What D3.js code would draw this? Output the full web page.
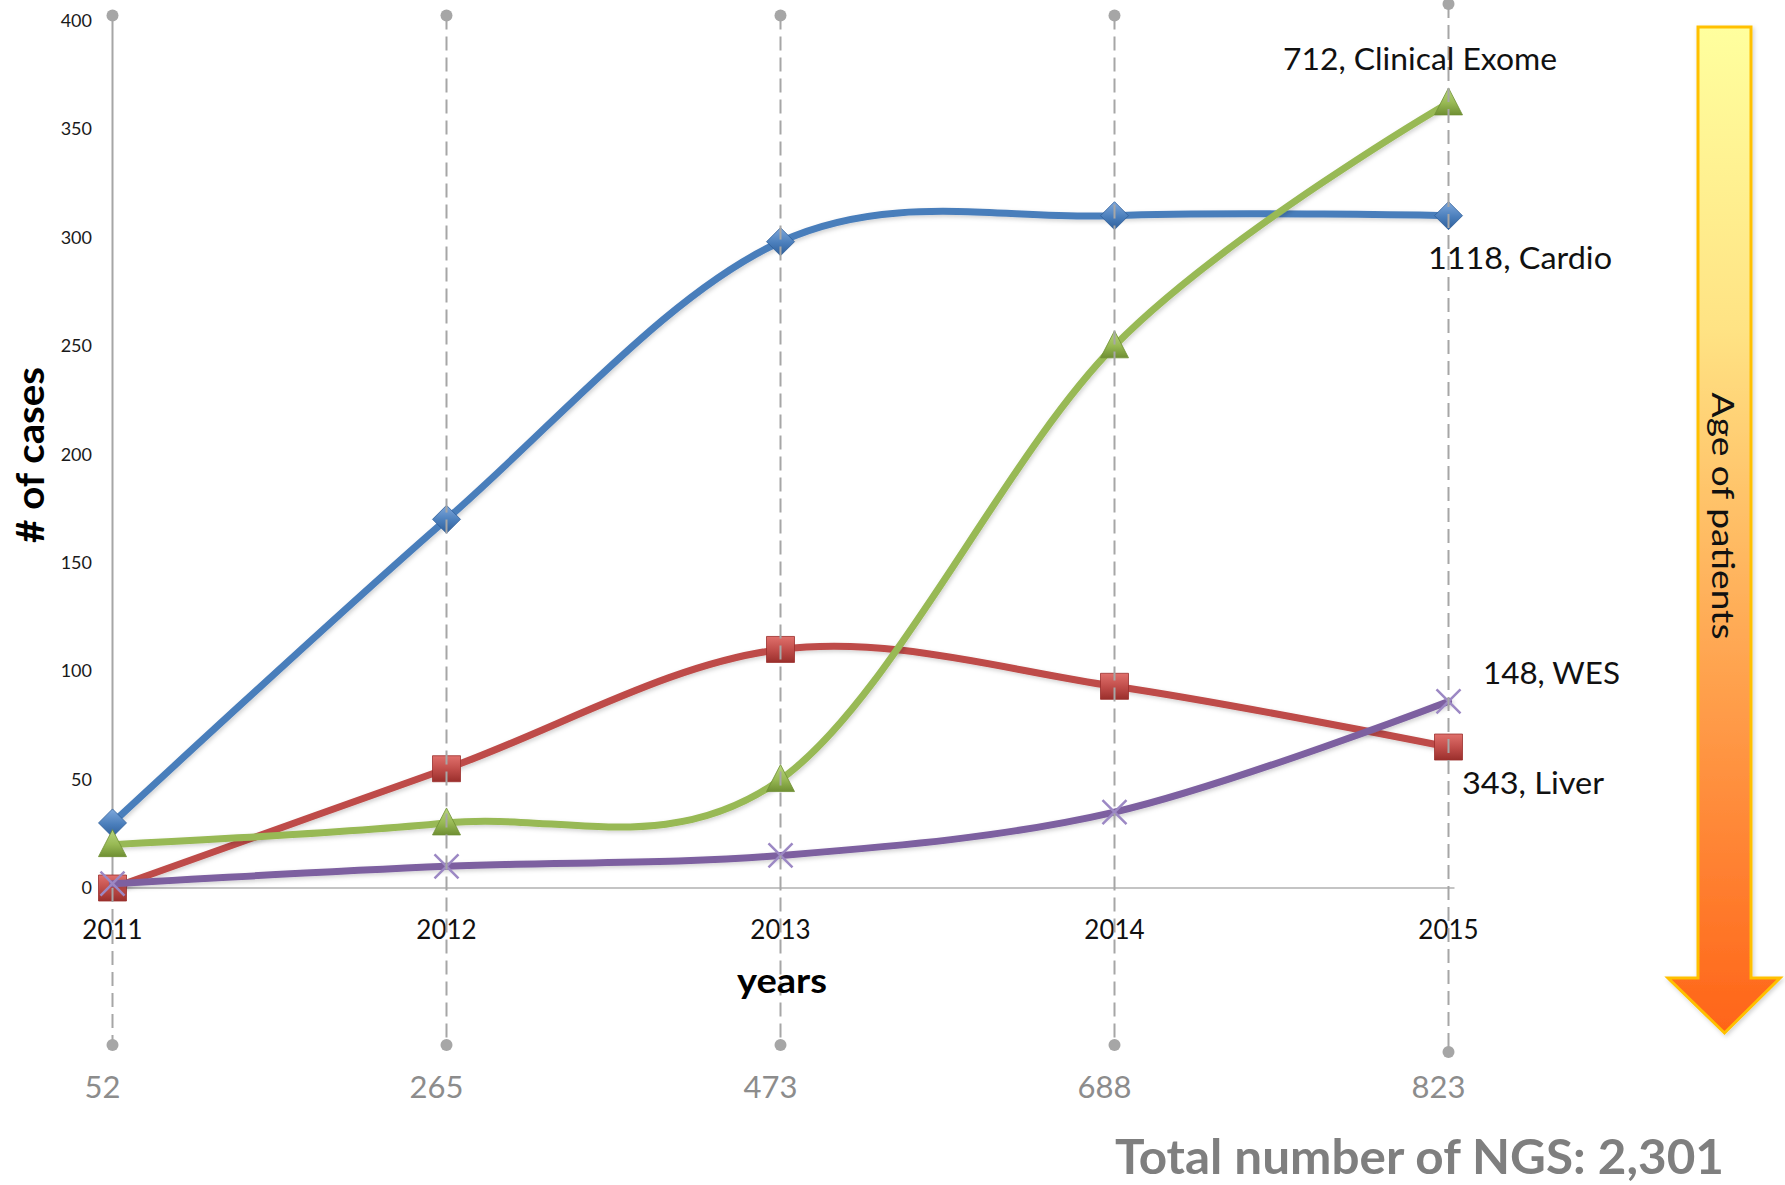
<!DOCTYPE html>
<html>
<head>
<meta charset="utf-8">
<script src="https://cdn.jsdelivr.net/npm/d3@7"></script>
<style>
  html, body { margin: 0; padding: 0; background: #fff; }
  svg { display: block; }
  text { font-family: Lato, "Open Sans", sans-serif; }
</style>
</head>
<body>
<svg id="chart" width="1785" height="1185"></svg>
<script>
// Years on the horizontal axis
const years = ["2011", "2012", "2013", "2014", "2015"];

// Number of NGS cases per panel and year
const cardio = [30, 170, 298, 310, 310];
const liver = [0, 55, 110, 93, 65];
const clinicalExome = [20, 30, 50, 250, 362];
const wes = [2, 10, 15, 35, 86];

// End-of-line labels (panel totals)
const endLabels = ["1118, Cardio", "343, Liver", "712, Clinical Exome", "148, WES"];

// Vertical axis ticks
const yTicks = [0, 50, 100, 150, 200, 250, 300, 350, 400];

const series = [
  { name: "Cardio", values: cardio, color: "#4A7EBB", light: "#7FA8DC", dark: "#2F5E99", marker: "diamond", label: endLabels[0] },
  { name: "Liver", values: liver, color: "#BE4B48", light: "#E0706C", dark: "#9A2F2C", marker: "square", label: endLabels[1] },
  { name: "Clinical Exome", values: clinicalExome, color: "#98B954", light: "#B9D67F", dark: "#6F8F33", marker: "triangle", label: endLabels[2] },
  { name: "WES", values: wes, color: "#7D60A0", light: "#A48DC6", dark: "#5E4480", marker: "x", label: endLabels[3] }
];

const svg = d3.select("#chart");
const defs = svg.append("defs");

const x = d3.scalePoint().domain(years).range([112.5, 1448.5]);
const y = d3.scaleLinear().domain([0, 400]).range([888, 20.5]);

// Marker gradients
series.forEach((s, i) => {
  const g = defs.append("linearGradient").attr("id", "mk" + i)
    .attr("x1", 0).attr("y1", 0).attr("x2", 0).attr("y2", 1);
  g.append("stop").attr("offset", "0%").attr("stop-color", s.light);
  g.append("stop").attr("offset", "55%").attr("stop-color", s.color);
  g.append("stop").attr("offset", "100%").attr("stop-color", s.dark);
});

// Arrow gradient
const ag = defs.append("linearGradient").attr("id", "arrowFill")
  .attr("gradientUnits", "userSpaceOnUse")
  .attr("x1", 0).attr("y1", 27).attr("x2", 0).attr("y2", 1033);
[["0%", "#FFFF9E"], ["30%", "#FFE384"], ["60%", "#FFAA55"], ["100%", "#FF6418"]]
  .forEach(([o, c]) => ag.append("stop").attr("offset", o).attr("stop-color", c));

const shadow = defs.append("filter").attr("id", "soft").attr("x", "-20%").attr("y", "-20%").attr("width", "140%").attr("height", "140%");
shadow.append("feDropShadow").attr("dx", 1.5).attr("dy", 2).attr("stdDeviation", 2).attr("flood-color", "#000").attr("flood-opacity", 0.18);

// Vertical axis tick labels
svg.append("g").selectAll("text").data(yTicks).join("text")
  .attr("x", 92).attr("y", d => y(d)).attr("dy", "0.35em")
  .attr("text-anchor", "end").attr("font-size", 18).attr("fill", "#1a1a1a")
  .text(d => d);

// Vertical axis line
svg.append("line")
  .attr("x1", x(years[0])).attr("x2", x(years[0]))
  .attr("y1", y(400)).attr("y2", y(0))
  .attr("stroke", "#a6a6a6").attr("stroke-width", 2);

// Horizontal axis base line
svg.append("line")
  .attr("x1", x(years[0])).attr("x2", x(years[years.length - 1]) + 6)
  .attr("y1", y(0)).attr("y2", y(0))
  .attr("stroke", "#8a8a8a").attr("stroke-width", 1.2);

// Year labels
svg.append("g").selectAll("text").data(years).join("text")
  .attr("x", d => x(d)).attr("y", 930).attr("dy", "0.35em")
  .attr("text-anchor", "middle").attr("font-size", 26).attr("fill", "#111")
  .text(d => d);

// Smoothed series lines
const line = d3.line()
  .x((d, i) => x(years[i]))
  .y(d => y(d))
  .curve(d3.curveCatmullRom.alpha(0));

const symbolPath = {
  diamond: "M0,-14L14,0L0,14L-14,0Z",
  square: "M-14,-13H14V13H-14Z",
  triangle: "M0,-15L14,12H-14Z",
  x: "M-12,-12L12,12M12,-12L-12,12"
};

series.forEach((s, i) => {
  const g = svg.append("g").attr("class", "series");
  g.append("path").datum(s.values)
    .attr("d", line)
    .attr("fill", "none").attr("stroke", s.color)
    .attr("stroke-width", 7).attr("stroke-linejoin", "round").attr("stroke-linecap", "round")
    .attr("filter", "url(#soft)");
  g.selectAll("path.mark").data(s.values).join("path").attr("class", "mark")
    .attr("transform", (d, j) => `translate(${x(years[j])},${y(d)})`)
    .attr("d", symbolPath[s.marker])
    .attr("fill", s.marker === "x" ? "none" : `url(#mk${i})`)
    .attr("stroke", s.marker === "x" ? "#9C88C4" : s.dark)
    .attr("stroke-width", s.marker === "x" ? 2.5 : 0.8);
});

// Drop lines with end dots
const dropTop = [15.5, 15.5, 15.5, 15.5, 4];
const dropBottom = [1045, 1045, 1045, 1045, 1052];
const drops = svg.append("g");
years.forEach((yr, i) => {
  drops.append("line")
    .attr("x1", x(yr)).attr("x2", x(yr))
    .attr("y1", i === 0 ? y(0) : dropTop[i]).attr("y2", dropBottom[i])
    .attr("stroke", "#a6a6a6").attr("stroke-width", 2)
    .attr("stroke-dasharray", "14,7");
  drops.append("circle").attr("cx", x(yr)).attr("cy", dropTop[i]).attr("r", 6).attr("fill", "#a6a6a6");
  drops.append("circle").attr("cx", x(yr)).attr("cy", dropBottom[i]).attr("r", 6).attr("fill", "#a6a6a6");
});

// Yearly totals under the axis
const yearTotals = years.map((yr, i) => d3.sum(series, s => s.values[i]));
svg.append("g").selectAll("text").data(yearTotals).join("text")
  .attr("x", (d, i) => x(years[i]) - 10).attr("y", 1087).attr("dy", "0.35em")
  .attr("text-anchor", "middle").attr("font-size", 31).attr("fill", "#8c8c8c")
  .text(d => d);

// End-of-line labels
const labelPos = {
  "Cardio": [1428, 258, 184],
  "Liver": [1462, 783, 142],
  "Clinical Exome": [1283, 59, 274],
  "WES": [1483, 673, 137]
};
series.forEach(s => {
  const [lx, ly, lw] = labelPos[s.name];
  svg.append("text").attr("x", lx).attr("y", ly).attr("dy", "0.35em")
    .attr("font-size", 30).attr("fill", "#111")
    .attr("textLength", lw).attr("lengthAdjust", "spacingAndGlyphs")
    .text(s.label);
});

// Axis titles
svg.append("text").attr("x", 782).attr("y", 981).attr("dy", "0.35em")
  .attr("text-anchor", "middle").attr("font-size", 34).attr("font-weight", "bold").attr("fill", "#000")
  .attr("textLength", 90).attr("lengthAdjust", "spacingAndGlyphs")
  .text("years");

svg.append("text").attr("transform", "translate(31,455) rotate(-90)").attr("dy", "0.35em")
  .attr("text-anchor", "middle").attr("font-size", 38).attr("font-weight", "bold").attr("fill", "#000")
  .attr("textLength", 176).attr("lengthAdjust", "spacingAndGlyphs")
  .text("# of cases");

// Age arrow
const arrow = { left: 1698, right: 1751, top: 27, headY: 978, headL: 1668, headR: 1780, tip: 1033 };
const cx = (arrow.left + arrow.right) / 2;
svg.append("path")
  .attr("d", `M${arrow.left},${arrow.top}H${arrow.right}V${arrow.headY}H${arrow.headR}L${cx},${arrow.tip}L${arrow.headL},${arrow.headY}H${arrow.left}Z`)
  .attr("fill", "url(#arrowFill)").attr("stroke", "#FFC000").attr("stroke-width", 3)
  .attr("stroke-linejoin", "miter").attr("filter", "url(#soft)");

svg.append("text").attr("transform", `translate(${cx - 2},516) rotate(90)`).attr("dy", "0.35em")
  .attr("text-anchor", "middle").attr("font-size", 31).attr("fill", "#111")
  .attr("textLength", 247).attr("lengthAdjust", "spacingAndGlyphs")
  .text("Age of patients");

// Grand total
const grandTotal = d3.sum(yearTotals);
svg.append("text").attr("x", 1115).attr("y", 1157).attr("dy", "0.35em")
  .attr("font-size", 48).attr("font-weight", "bold").attr("fill", "#7f7f7f")
  .attr("textLength", 609).attr("lengthAdjust", "spacingAndGlyphs")
  .text("Total number of NGS: " + d3.format(",")(grandTotal));
</script>
</body>
</html>
